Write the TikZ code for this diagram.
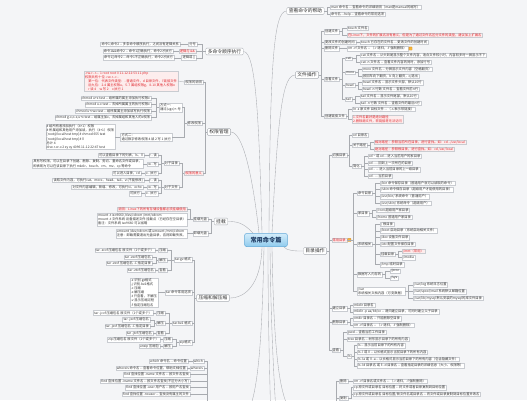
\documentclass[tikz,border=0pt]{standalone}
\usepackage{fontspec}
\setmainfont{Noto Sans CJK SC}[Ligatures=TeXOff]
\definecolor{bgc}{HTML}{F4F5F7}
\definecolor{boxc}{HTML}{C9CCD1}
\definecolor{linec}{HTML}{A8ABB0}
\definecolor{txtc}{HTML}{333333}
\definecolor{redc}{HTML}{E0262C}
\definecolor{pinkc}{HTML}{FDEDED}
\definecolor{brc}{HTML}{A9ADB3}
\definecolor{ctrtop}{HTML}{D3ECFA}
\definecolor{ctrbot}{HTML}{8FCBEE}
\definecolor{ctrdraw}{HTML}{5FA8D8}
\definecolor{ctrtxt}{HTML}{1E3C64}
\definecolor{iconc}{HTML}{F4B63A}
\newcommand\Lf[4][]{\node[leaf,anchor=east,#1] (#2) at (#3) {#4};}
\newcommand\Rf[4][]{\node[leaf,anchor=west,#1] (#2) at (#3) {#4};}
\newcommand\Lk[3][2.5]{\draw[conn] (#2.west) -- ++(-#1,0) |- (#3.east);}
\newcommand\Rk[3][2.5]{\draw[conn] (#2.east) -- ++(#1,0) |- (#3.west);}
\newcommand\LD[2]{\draw[conn] (#1.west) -- (#2.east);}
\newcommand\RD[2]{\draw[conn] (#1.east) -- (#2.west);}
\begin{document}
\begin{tikzpicture}[x=1bp,y=-1bp,
 conn/.style={draw=linec,line width=0.35pt},
 leaf/.style={draw=boxc,fill=white,line width=0.25pt,inner xsep=1pt,inner ysep=0.6pt,font=\fontsize{3.3}{4.1}\selectfont,text=txtc,align=left},
 rleaf/.style={leaf,text=redc,fill=pinkc},
 br/.style={draw=brc,fill=white,line width=0.4pt,rounded corners=1pt,inner xsep=2pt,inner ysep=1.2pt,font=\fontsize{4.8}{5.6}\selectfont,text=txtc},
 ctr/.style={draw=ctrdraw,top color=ctrtop,bottom color=ctrbot,line width=0.5pt,rounded corners=2pt,inner xsep=6pt,inner ysep=3.5pt,font=\fontsize{6.2}{7}\selectfont\bfseries,text=ctrtxt},
 icon/.style={fill=iconc,draw=orange!80!black,line width=0.2pt,minimum size=3.2bp,inner sep=0pt,rounded corners=0.4pt}]
\fill[bgc] (0,0) rectangle (527,400);
\useasboundingbox (0,0) rectangle (527,400);
\clip (0,0) rectangle (527,400);

% ---------- centre
\node[ctr] (c) at (266,240) {常用命令篇};

% ---------- 多命令顺序执行
\node[br] (dm) at (224.5,51.5) {多命令顺序执行};
\Lf{dm1}{197,44}{分号}
\Lf[rleaf]{dm2}{196,51}{逻辑与 \&\&}
\Lf{dm3}{196,58}{逻辑或 ||}
\Lf{dm1a}{180,44}{命令1;命令2 -- 多条命令顺序执行，之间没有逻辑关系}
\Lf{dm2a}{173,51}{命令1\&\&命令2 -- 命令1正确执行，命令2才执行}
\Lf{dm3a}{174,58}{命令1||命令2 -- 命令1不正确执行，命令2才执行}
\Lk[3]{dm}{dm1} \Lk[3]{dm}{dm2} \Lk[3]{dm}{dm3}
\LD{dm1}{dm1a} \LD{dm2}{dm2a} \LD{dm3}{dm3a}

% ---------- 权限管理
\node[br] (qx) at (219,132) {权限管理};
\Lf{qx1}{203,82}{权限的说明}
\Lf{qx2}{202,123}{修改权限}
\Lf[rleaf]{qx3}{203,173}{权限的意义}
\Lk{qx}{qx1} \Lk{qx}{qx2} \Lk{qx}{qx3}
\Lf[rleaf]{qx1a}{178,81}{-rw-r--r--. 1 root root 0 11-12 22:53 11.php\\权限共有十位 -rw-r--r--\\\quad 第一位：代表文件类型：- 普通文件，d 目录文件，l 链接文件\\\quad 后九位：2-4 属主权限u，5-7 属组权限g，8-10 其他人权限o\\\quad r 读 4\quad w 写 2\quad x 执行 1}
\LD{qx1}{qx1a}
\Lf{fs1}{182,107.5}{方式一：\\通过(ugo)+-号}
\Lf{fs2}{172,137}{方式二：\\通过数字修改权限 4 读 2 写 1 执行}
\Lk{qx2}{fs1} \Lk{qx2}{fs2}
\Lf{ch1}{151,98}{chmod u+x test -- 给所属的属主添加执行权限x}
\Lf{ch2}{151,104.5}{chmod u-x test -- 去掉所属属主的执行权限x}
\Lf{ch3}{151,111}{chmod u+rwx test -- 给所属属主添加读写执行权限}
\Lf{ch4}{151,117.5}{chmod g-x,o-x,u+x test -- 给属主加x，去掉属组和其他人的x权限}
\Lk{fs1}{ch1} \Lk{fs1}{ch2} \Lk{fs1}{ch3} \Lk{fs1}{ch4}
\Lf{fs2a}{115,137}{\# 给所有者添加执行（4+1）权限\\\# 所属组和其他用户添加读，执行（4+1）权限\\{}[root@localhost tmp]\# chmod 655 test\\{}[root@localhost tmp]\# ll\\总计 4\\drw-r-xr-x 2 xy xy 4096 11-12 22:47 test}
\LD{fs2}{fs2a}
\Lf{dir}{179,163}{对于目录}
\Lf{fil}{179,187}{对于文件}
\Lk{qx3}{dir} \Lk{qx3}{fil}
\Lf{dr}{158,155}{r - 读}
\Lf{dw}{158,164}{w - 写}
\Lf{dx}{158,173}{x - 执行}
\Lk{dir}{dr} \Lk{dir}{dw} \Lk{dir}{dx}
\Lf{dra}{144,155}{可以查看目录下的列表，ls、ll}
\Lf{dwa}{143,164}{具有写权限，可以在目录下创建、删除、复制、剪切、重命名文件或目录，\\即表现为可以在该目录下执行 mkdir、touch、rm、mv、cp 等命令}
\Lf{dxa}{141,173}{可以进入目录，cd}
\LD{dr}{dra} \LD{dw}{dwa} \LD{dx}{dxa}
\Lf{fr}{158,180}{r - 读}
\Lf{fw}{158,187}{w - 写}
\Lf{fx}{158,193.5}{x - 执行}
\Lk{fil}{fr} \Lk{fil}{fw} \Lk{fil}{fx}
\Lf{fra}{144,180}{读取文件内容，可执行cat、more、head、tail、vi(不能修改)}
\Lf{fwa}{143,187}{对文件内容编辑，新增、修改，可执行vi、echo}
\Lf{fxa}{141,193.5}{可执行}
\LD{fr}{fra} \LD{fw}{fwa} \LD{fx}{fxa}

% ---------- 挂载
\node[br] (gz) at (221,221.5) {挂载};
\Lf{gz1}{208,219}{挂载光盘}
\Lf{gz2}{208,233.5}{卸载光盘}
\Lk[3]{gz}{gz1} \Lk[3]{gz}{gz2}
\Lf[rleaf]{gza}{187,209}{说明：Linux下的所有存储设备都必须挂载使用}
\Lf{gzb}{187,219.5}{mount -t iso9660 /dev/cdrom /mnt/cdrom\\mount -t 文件系统 设备描述文件 挂载点（已经存在空目录）\\备注：文件系统 iso9660 可以省略}
\Lk{gz1}{gza} \Lk{gz1}{gzb}
\Lf{gzc}{187,233.5}{umount /dev/cdrom 或 umount /mnt/cdrom\\注意：卸载需要退出光盘目录，否则卸载失败。}
\LD{gz2}{gzc}

% ---------- 压缩和解压缩
\node[br] (ys) at (213,298) {压缩和解压缩};
\Lf{tgz}{192,260}{tar.gz 格式}
\Lf{topt}{192,292.5}{tar 命令常用选项}
\Lf{tbz}{192,323}{tar.bz2 格式}
\Lf{tzip}{192,342.5}{zip格式}
\Lk{ys}{tgz} \Lk{ys}{topt} \Lk{ys}{tbz} \Lk{ys}{tzip}
\Lf{g1}{167,250}{压缩}
\Lf{g2}{167,260}{解压}
\Lf{g3}{167,270}{查看}
\Lk{tgz}{g1} \Lk{tgz}{g2} \Lk{tgz}{g3}
\Lf{g1a}{155,250}{tar -zcvf 压缩包名 原文件（1个或多个）}
\Lf{g2a}{152,256.8}{tar -zxvf 压缩包名}
\Lf{g2b}{152,263.2}{tar -zxvf 压缩包名 -C 指定目录}
\Lf{g3a}{155,270}{tar -ztvf 压缩包名}
\LD{g1}{g1a} \Lk{g2}{g2a} \Lk{g2}{g2b} \LD{g3}{g3a}
\Lf{opt}{158,292.5}{-z 识别.gz格式\\-j 识别.bz2格式\\-c 压缩\\-x 解压缩\\-t 只查看，不解压\\-v 显示压缩过程\\-f 指定压缩包名}
\LD{topt}{opt}
\Lf{b1}{165,313}{压缩}
\Lf{b2}{165,323}{解压}
\Lf{b3}{165,333}{查看}
\Lk{tbz}{b1} \Lk{tbz}{b2} \Lk{tbz}{b3}
\Lf{b1a}{153,313}{tar -jcvf 压缩包名 原文件（1个或多个）}
\Lf{b2a}{150,319.8}{tar -jxvf 压缩包名}
\Lf{b2b}{150,326.2}{tar -jxvf 压缩包名 -C 指定目录}
\Lf{b3a}{153,333}{tar -jtvf 压缩包名}
\LD{b1}{b1a} \Lk{b2}{b2a} \Lk{b2}{b2b} \LD{b3}{b3a}
\Lf{z1}{172,339.5}{压缩}
\Lf{z2}{172,346}{解压}
\Lk{tzip}{z1} \Lk{tzip}{z2}
\Lf{z1a}{160,339.5}{zip 压缩包名 原文件（1个或多个）}
\Lf{z2a}{160,346}{unzip 压缩包}
\LD{z1}{z1a} \LD{z2}{z2a}

% ---------- 搜索 (parent below the picture)
\coordinate (ssw) at (210,418);
\coordinate (sse) at (240,418);
\Lf{w1}{204,361}{which}
\Lf{w2}{204,368}{whereis}
\Lf{w1a}{188,361}{which 命令名 -- 命令位置}
\Lf{w2a}{187,368}{whereis 命令名 -- 查看命令位置，帮助文档位置}
\Lf{f1}{190,374.5}{find 查找位置 -name 文件名 -- 按文件名查找}
\Lf{f2}{190,381}{find 查找位置 -iname 文件名 -- 按文件名查找(不区分大小写)}
\Lf{f3}{190,387.5}{find 查找位置 -user 用户名 -- 按用户名查找}
\Lf{f4}{190,394}{find 查找位置 -nouser -- 查找没有属主的文件}
\foreach \n in {w1,w2,f1,f2,f3,f4} {\draw[conn] (ssw) -- ++(-3,0) |- (\n.east);}
\LD{w1}{w1a} \LD{w2}{w2a}

% ---------- 查看命令的帮助
\node[br] (hp) at (305.5,11) {查看命令的帮助};
\Rf{hp1}{330,7}{man 命令名 -- 查看命令的详细说明（man是manual的缩写）}
\Rf{hp2}{330,14}{命令名 --help -- 查看命令的常用选项}
\Rk[3]{hp}{hp1} \Rk[3]{hp}{hp2}

% ---------- 文件操作
\node[br] (wj) at (307,75) {文件操作};
\Rf{wj1}{324,31.5}{创建文件}
\Rf{wj2}{324,42}{更改文件的创建时间}
\Rf{wj3}{324,48.5}{删除文件}
\Rf{wj4}{324,79}{查看文件}
\Rf{wj5}{324,116}{创建链接文件}
\Rk{wj}{wj1} \Rk{wj}{wj2} \Rk{wj}{wj3} \Rk{wj}{wj4} \Rk{wj}{wj5}
\Rf{c1}{347,28}{touch 文件名}
\Rf[rleaf]{c2}{347,34.8}{在Linux下，文件的扩展名没有意义，但是为了通过文件名区分文件的类型，建议加上扩展名}
\Rk{wj1}{c1} \Rk{wj1}{c2}
\Rf{c3}{360,42}{touch 已存在的文件名 -- 更改文件的创建时间}
\RD{wj2}{c3}
\Rf{c4}{347,48.5}{rm -rf 文件名 -- （-r 递归，-f 强制删除）}
\RD{wj3}{c4}
\node[icon,anchor=west] (c4i) at ([xshift=1]c4.east) {};
\Rf{cat}{345,58.5}{cat}
\Rf{more}{345,72.5}{more}
\Rf{head}{345,85.5}{head}
\Rf{tail}{345,99.5}{tail}
\Rk{wj4}{cat} \Rk{wj4}{more} \Rk{wj4}{head} \Rk{wj4}{tail}
\Rf{ca1}{360,55}{cat 文件名 -- 从头到尾显示整个文件内容，适合文件较小时，内容较多时一屏显示不下}
\Rf{ca2}{360,62}{cat -n 文件名 -- 查看文件内容的同时，添加行号}
\Rk[4]{cat}{ca1} \Rk[4]{cat}{ca2}
\Rf{mo1}{362,69}{more 文件名 -- 分屏显示文件内容（空格翻页）}
\Rf{mo2}{362,76}{按回车向下翻页，b 向上翻页，q 退出}
\Rk[3]{more}{mo1} \Rk[3]{more}{mo2}
\Rf{he1}{362,82.5}{head 文件名 -- 显示文件头部，默认10行}
\Rf{he2}{362,89}{head -n 行数 文件名 -- 查看文件前n行}
\Rk[3]{head}{he1} \Rk[3]{head}{he2}
\Rf{ta1}{360,96}{tail 文件名 -- 显示文件尾部，默认10行}
\Rf{ta2}{360,103}{tail -n 行数 文件名 -- 查看文件的最后n行}
\Rk[3]{tail}{ta1} \Rk[3]{tail}{ta2}
\Rf{l1}{352,109}{ln -s 原文件 目标文件 -- （-s 表示软链接）}
\Rf[rleaf]{l2}{352,119}{1.文件名最好是绝对路径\\2.删除源文件，软链接将无法访问}
\Rk{wj5}{l1} \Rk{wj5}{l2}

% ---------- 目录操作
\node[br] (ml) at (315,251) {目录操作};
\Rf{m1}{331.5,155}{切换目录}
\Rf[rleaf]{m2}{331.5,240}{常用目录}
\Rf{m3}{331.5,308.5}{建立目录}
\Rf{m4}{331.5,322}{删除目录}
\Rf{m5}{331.5,350}{查看}
\Rk{ml}{m1} \Rk{ml}{m2} \Rk{ml}{m3} \Rk{ml}{m4} \Rk{ml}{m5}
\node[icon,anchor=west] (m2i) at ([xshift=0.8]m2.east) {};
\Rf{cdn}{352,135}{cd 目录名}
\Rf{lj}{352,145.5}{关于路径}
\Rf{jh}{352,166}{简化}
\Rk{m1}{cdn} \Rk{m1}{lj} \Rk{m1}{jh}
\Rf[rleaf]{lj1}{374,142}{相对路径：参照当前所在目录，进行查找。如：cd ../usr/local}
\Rf[rleaf]{lj2}{374,149}{绝对路径：参照根目录，进行查找。如：cd /usr/local}
\Rk[3]{lj}{lj1} \Rk[3]{lj}{lj2}
\Rf{jh1}{368,156}{cd \textasciitilde{} 或 cd -- 进入当前用户的家目录}
\Rf{jh2}{368,162.8}{cd - -- 回到上一次所在的目录}
\Rf{jh3}{368,169.5}{cd .. -- 进入当前目录的上一级目录}
\Rf{jh4}{368,176.2}{cd . -- 当前目录}
\Rk[3]{jh}{jh1} \Rk[3]{jh}{jh2} \Rk[3]{jh}{jh3} \Rk[3]{jh}{jh4}
\Rf{d1}{357,193}{命令目录}
\Rf{d2}{357,213.5}{家目录}
\Rf{d3}{357,244}{系统相关}
\Rf{d4}{357,274.5}{数据写入内存的}
\Rf{d5}{357,291}{/var\\系统相关文档内容（可变数据）}
\Rk[6]{m2}{d1} \Rk[6]{m2}{d2} \Rk[6]{m2}{d3} \Rk[6]{m2}{d4} \Rk[6]{m2}{d5}
\Rf{d1a}{380,183}{/bin 命令保存目录（普通用户就可以读取的命令）}
\Rf{d1b}{380,189.5}{/sbin 命令保存目录（超级用户才能使用的目录）}
\Rf{d1c}{380,196.5}{/usr/bin/ 系统命令（普通用户）}
\Rf{d1d}{380,203}{/usr/sbin/ 系统命令（超级用户）}
\Rk[3]{d1}{d1a} \Rk[3]{d1}{d1b} \Rk[3]{d1}{d1c} \Rk[3]{d1}{d1d}
\Rf{d2a}{376,210}{/root 超级用户家目录}
\Rf{d2b}{376,217}{/home 普通用户家目录}
\Rk[3]{d2}{d2a} \Rk[3]{d2}{d2b}
\Rf{d3a}{380,224}{/ 根目录}
\Rf{d3b}{380,230.7}{/boot 启动目录（系统启动相关文件）}
\Rf{d3c}{380,237.4}{/dev 设备文件目录}
\Rf{d3d}{380,244.1}{/etc 配置文件保存目录}
\Rf{d3e}{380,254.3}{挂载目录}
\Rf{d3f}{380,264.5}{/tmp 临时目录}
\Rk[3]{d3}{d3a} \Rk[3]{d3}{d3b} \Rk[3]{d3}{d3c} \Rk[3]{d3}{d3d} \Rk[3]{d3}{d3e} \Rk[3]{d3}{d3f}
\Rf[rleaf]{d3e1}{402,251}{/mnt（常用）}
\Rf{d3e2}{402,257.6}{/media}
\Rk[3]{d3e}{d3e1} \Rk[3]{d3e}{d3e2}
\Rf{d4a}{390,271}{/proc}
\Rf{d4b}{390,278}{/sys}
\Rk[3]{d4}{d4a} \Rk[3]{d4}{d4b}
\Rf{d5a}{413,285}{/var/log 系统日志位置}
\Rf{d5b}{413,291.6}{/var/spool/mail 系统默认邮箱位置}
\Rf{d5c}{413,298.2}{/var/lib/mysql 默认安装的mysql的库文件目录}
\Rk[3]{d5}{d5a} \Rk[3]{d5}{d5b} \Rk[3]{d5}{d5c}
\Rf{m3a}{353,305}{mkdir 目录名}
\Rf{m3b}{353,311.7}{mkdir -p aa/bb/cc -- 递归建立目录，可同时建立父子目录}
\Rk[3]{m3}{m3a} \Rk[3]{m3}{m3b}
\Rf{m4a}{353,318.5}{rmdir 目录名 -- 只能删除空目录}
\Rf{m4b}{353,325.2}{rm -rf 目录名 -- （-r 递归，-f 强制删除）}
\Rk[3]{m4}{m4a} \Rk[3]{m4}{m4b}
\Rf{m5a}{347,332}{pwd -- 查看当前工作目录}
\Rf{m5b}{347,338.8}{tree 目录名 -- 树形显示目录下的所有内容}
\Rf{ls}{347,356}{ls}
\Rk{m5}{m5a} \Rk{m5}{m5b} \Rk{m5}{ls}
\Rf{ls1}{357,345.6}{ls -- 显示当前目录下的所有内容}
\Rf{ls2}{357,352.3}{ls -l 或 ll -- 以长格式显示当前目录下的所有内容}
\Rf{ls3}{357,359}{ls -la 或 ll -a -- 以长格式显示当前目录下的所有内容（包含隐藏文件）}
\Rf{ls4}{357,365.7}{ls -ld 目录名 或 ll -d 目录名 -- 查看指定目录的详细信息（大小、权限等）}
\Rk{ls}{ls1} \Rk{ls}{ls2} \Rk{ls}{ls3} \Rk{ls}{ls4}

% ---------- 删除 / 复制 (parent below the picture)
\coordinate (fow) at (300,416);
\coordinate (foe) at (334,416);
\Rf{x1}{339,381}{删除}
\Rf{x2}{339,398}{复制}
\foreach \n in {x1,x2} {\draw[conn] (foe) -- ++(2.5,0) |- (\n.west);}
\Rf{x1a}{353,381}{rm -rf 目录名或文件名 -- （-r 递归，-f 强制删除）}
\RD{x1}{x1a}
\Rf{x2a}{353,387.5}{cp 原文件或目录名 目标位置 -- 将文件或者目录复制到目标位置}
\Rf{x2b}{353,394.2}{cp 原文件或目录名 目标位置/新文件名或目录名 -- 将文件或目录复制到目标位置并改名}
\Rk[3]{x2}{x2a} \Rk[3]{x2}{x2b}

% ---------- curves from the centre
\coordinate (oc1) at (271,430);
\coordinate (oc2) at (277,430);
\draw[conn] ([xshift=-4]c.north) .. controls (259,120) and (256,51.5) .. (dm.east);
\draw[conn] ([xshift=-7]c.north) .. controls (252,170) and (242,132) .. (qx.east);
\draw[conn] ([xshift=3]c.north) .. controls (270,60) and (274,11) .. (hp.west);
\draw[conn] ([xshift=6]c.north) .. controls (278,110) and (283,75) .. (wj.west);
\draw[conn] ([xshift=-13]c.north) .. controls (243,222) and (236,221.5) .. (gz.east);
\draw[conn] ([xshift=-4]c.south) .. controls (261,285) and (245,298) .. (ys.east);
\draw[conn] ([xshift=-4]c.south east) .. controls (287,251) and (295,251) .. (ml.west);
\draw[conn] ([xshift=-2]c.south) .. controls (262,340) and (258,418) .. (sse);
\draw[conn] ([xshift=2]c.south) .. controls (268,330) and (270,380) .. (oc1);
\draw[conn] ([xshift=4]c.south) .. controls (271,330) and (274,380) .. (oc2);
\draw[conn] ([xshift=6]c.south) .. controls (274,360) and (280,416) .. (fow);
\end{tikzpicture}
\end{document}
